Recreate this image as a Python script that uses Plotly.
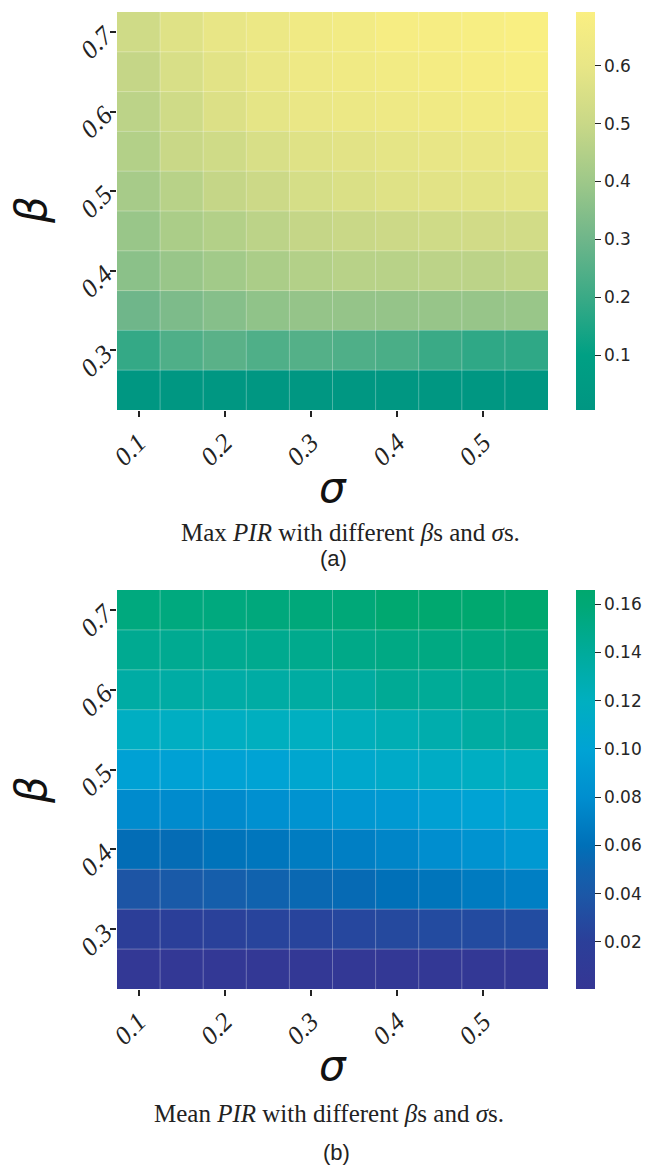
import plotly.graph_objects as go

sigma = [0.10, 0.15, 0.20, 0.25, 0.30, 0.35, 0.40, 0.45, 0.50, 0.55]
beta = [0.25, 0.30, 0.35, 0.40, 0.45, 0.50, 0.55, 0.60, 0.65, 0.70]
x_ticks = [0.1, 0.2, 0.3, 0.4, 0.5]
y_ticks = [0.3, 0.4, 0.5, 0.6, 0.7]

# Max PIR (rows: beta ascending)
max_pir = [
    [0.010, 0.010, 0.010, 0.010, 0.010, 0.010, 0.010, 0.010, 0.010, 0.010],
    [0.190, 0.240, 0.260, 0.240, 0.250, 0.240, 0.230, 0.200, 0.180, 0.180],
    [0.300, 0.330, 0.350, 0.370, 0.380, 0.380, 0.380, 0.385, 0.385, 0.390],
    [0.360, 0.390, 0.410, 0.430, 0.450, 0.460, 0.460, 0.470, 0.470, 0.480],
    [0.390, 0.430, 0.450, 0.470, 0.490, 0.500, 0.510, 0.520, 0.525, 0.530],
    [0.420, 0.460, 0.490, 0.510, 0.540, 0.555, 0.570, 0.580, 0.585, 0.590],
    [0.450, 0.500, 0.520, 0.550, 0.570, 0.580, 0.590, 0.600, 0.610, 0.620],
    [0.470, 0.520, 0.560, 0.590, 0.610, 0.620, 0.630, 0.640, 0.650, 0.655],
    [0.490, 0.550, 0.580, 0.610, 0.630, 0.640, 0.650, 0.660, 0.670, 0.680],
    [0.520, 0.570, 0.600, 0.620, 0.640, 0.650, 0.670, 0.672, 0.680, 0.690],
]

# Mean PIR (rows: beta ascending)
mean_pir = [
    [0.004, 0.004, 0.005, 0.005, 0.005, 0.005, 0.004, 0.005, 0.004, 0.005],
    [0.018, 0.020, 0.022, 0.024, 0.024, 0.027, 0.028, 0.030, 0.030, 0.031],
    [0.038, 0.042, 0.046, 0.050, 0.054, 0.056, 0.060, 0.063, 0.067, 0.070],
    [0.058, 0.057, 0.062, 0.064, 0.068, 0.070, 0.074, 0.080, 0.085, 0.090],
    [0.078, 0.078, 0.077, 0.082, 0.085, 0.088, 0.090, 0.097, 0.100, 0.104],
    [0.098, 0.098, 0.099, 0.100, 0.105, 0.108, 0.112, 0.115, 0.118, 0.120],
    [0.118, 0.118, 0.118, 0.120, 0.119, 0.122, 0.126, 0.130, 0.136, 0.137],
    [0.135, 0.135, 0.134, 0.135, 0.136, 0.137, 0.143, 0.142, 0.145, 0.145],
    [0.145, 0.145, 0.145, 0.146, 0.147, 0.150, 0.152, 0.153, 0.154, 0.156],
    [0.155, 0.155, 0.155, 0.156, 0.157, 0.158, 0.164, 0.165, 0.165, 0.166],
]

max_cb_ticks = [0.1, 0.2, 0.3, 0.4, 0.5, 0.6]
mean_cb_ticks = [0.02, 0.04, 0.06, 0.08, 0.10, 0.12, 0.14, 0.16]

max_scale = [
    [0.0, "#009682"], [0.138, "#00a084"], [0.283, "#3aaa86"], [0.43, "#6fb68a"],
    [0.574, "#9ec889"], [0.72, "#c9d887"], [0.865, "#e8e686"], [1.0, "#faef82"],
]
mean_scale = [
    [0.0, "#353694"], [0.12, "#2b3f99"], [0.24, "#1b58a7"], [0.30, "#1062ae"],
    [0.36, "#0070b8"], [0.48, "#008ecf"], [0.60, "#00a3d4"], [0.72, "#00afc0"],
    [0.84, "#00ab9c"], [0.96, "#00a876"], [1.0, "#00a86e"],
]

# page body has an 8px margin: work in reference pixels minus that offset
OFF = 8
W = 653 - OFF
H = 1167 - OFF


def px(v):
    return (v - OFF) / W


def py(v):
    return 1 - (v - OFF) / H


xdom = [px(117), px(548)]
dom_top = [py(410), py(12)]
dom_bot = [py(989), py(590)]

fig = go.Figure()

tick_font = dict(family="Liberation Serif", size=26, color="#222222", style="italic")
cb_font = dict(family="DejaVu Sans", size=17, color="#262626")


def add_map(z, scale, zmin, zmax, cbt, xa, ya, dom, fmt):
    fig.add_trace(go.Heatmap(
        x=sigma, y=beta, z=z, colorscale=scale, zmin=zmin, zmax=zmax,
        xaxis=xa, yaxis=ya,
        colorbar=dict(
            x=px(576), xanchor="left", thickness=19, len=dom[1] - dom[0],
            lenmode="fraction", y=(dom[0] + dom[1]) / 2, yanchor="middle",
            tickvals=cbt, tickformat=fmt, ticks="outside", ticklen=6,
            tickcolor="#262626", tickfont=cb_font, outlinewidth=0, xpad=0, ypad=0,
        ),
    ))


add_map(max_pir, max_scale, 0.005, 0.693, max_cb_ticks, "x", "y", dom_top, ".1f")
add_map(mean_pir, mean_scale, 0.0005, 0.1658, mean_cb_ticks, "x2", "y2", dom_bot, ".2f")

# faint cell separators
half = (sigma[1] - sigma[0]) / 2
hb = (beta[1] - beta[0]) / 2
shapes = []
for xr, yr in (("x", "y"), ("x2", "y2")):
    for s in sigma[1:]:
        shapes.append(dict(type="line", xref=xr, yref=yr, x0=s - half, x1=s - half,
                           y0=beta[0] - hb, y1=beta[-1] + hb,
                           line=dict(color="rgba(255,255,255,0.3)", width=1)))
    for b in beta[1:]:
        shapes.append(dict(type="line", xref=xr, yref=yr, x0=sigma[0] - half, x1=sigma[-1] + half,
                           y0=b - hb, y1=b - hb,
                           line=dict(color="rgba(255,255,255,0.3)", width=1)))

axis_common = dict(showgrid=False, zeroline=False, showline=False, ticks="outside",
                   ticklen=6, tickwidth=2, tickcolor="#222222", tickfont=tick_font,
                   automargin=False, tickformat=".1f")

xrange = [sigma[0] - half, sigma[-1] + half]
yrange = [beta[0] - hb, beta[-1] + hb]

fig.update_layout(
    width=W, height=H, margin=dict(l=0, r=0, t=0, b=0, autoexpand=False),
    paper_bgcolor="white", plot_bgcolor="white", showlegend=False,
    shapes=shapes,
    xaxis=dict(domain=xdom, anchor="y", range=xrange, tickvals=x_ticks, tickangle=-45, **axis_common),
    yaxis=dict(domain=dom_top, anchor="x", range=yrange, tickvals=y_ticks, tickangle=-45, **axis_common),
    xaxis2=dict(domain=xdom, anchor="y2", range=xrange, tickvals=x_ticks, tickangle=-45, **axis_common),
    yaxis2=dict(domain=dom_bot, anchor="x2", range=yrange, tickvals=y_ticks, tickangle=-45, **axis_common),
)

title_font = dict(family="DejaVu Sans", size=42, color="#111111", style="italic")
cap_font = dict(family="Liberation Serif", size=25, color="#222222")
lab_font = dict(family="Liberation Sans", size=22, color="#222222")


def note(text, x, y, font, angle=0):
    fig.add_annotation(text=text, x=px(x), y=py(y), xref="paper", yref="paper",
                       xanchor="center", yanchor="middle", showarrow=False,
                       font=font, textangle=angle)


note("β", 31, 210, title_font, -90)
note("σ", 333, 487, title_font)
note("β", 31, 790, title_font, -90)
note("σ", 333, 1065, title_font)
note("Max <i>PIR</i> with different <i>β</i>s and <i>σ</i>s.", 350, 532, cap_font)
note("(a)", 333, 558, lab_font)
note("Mean <i>PIR</i> with different <i>β</i>s and <i>σ</i>s.", 329, 1113, cap_font)
note("(b)", 336, 1152, lab_font)

fig.write_html("out.html")
